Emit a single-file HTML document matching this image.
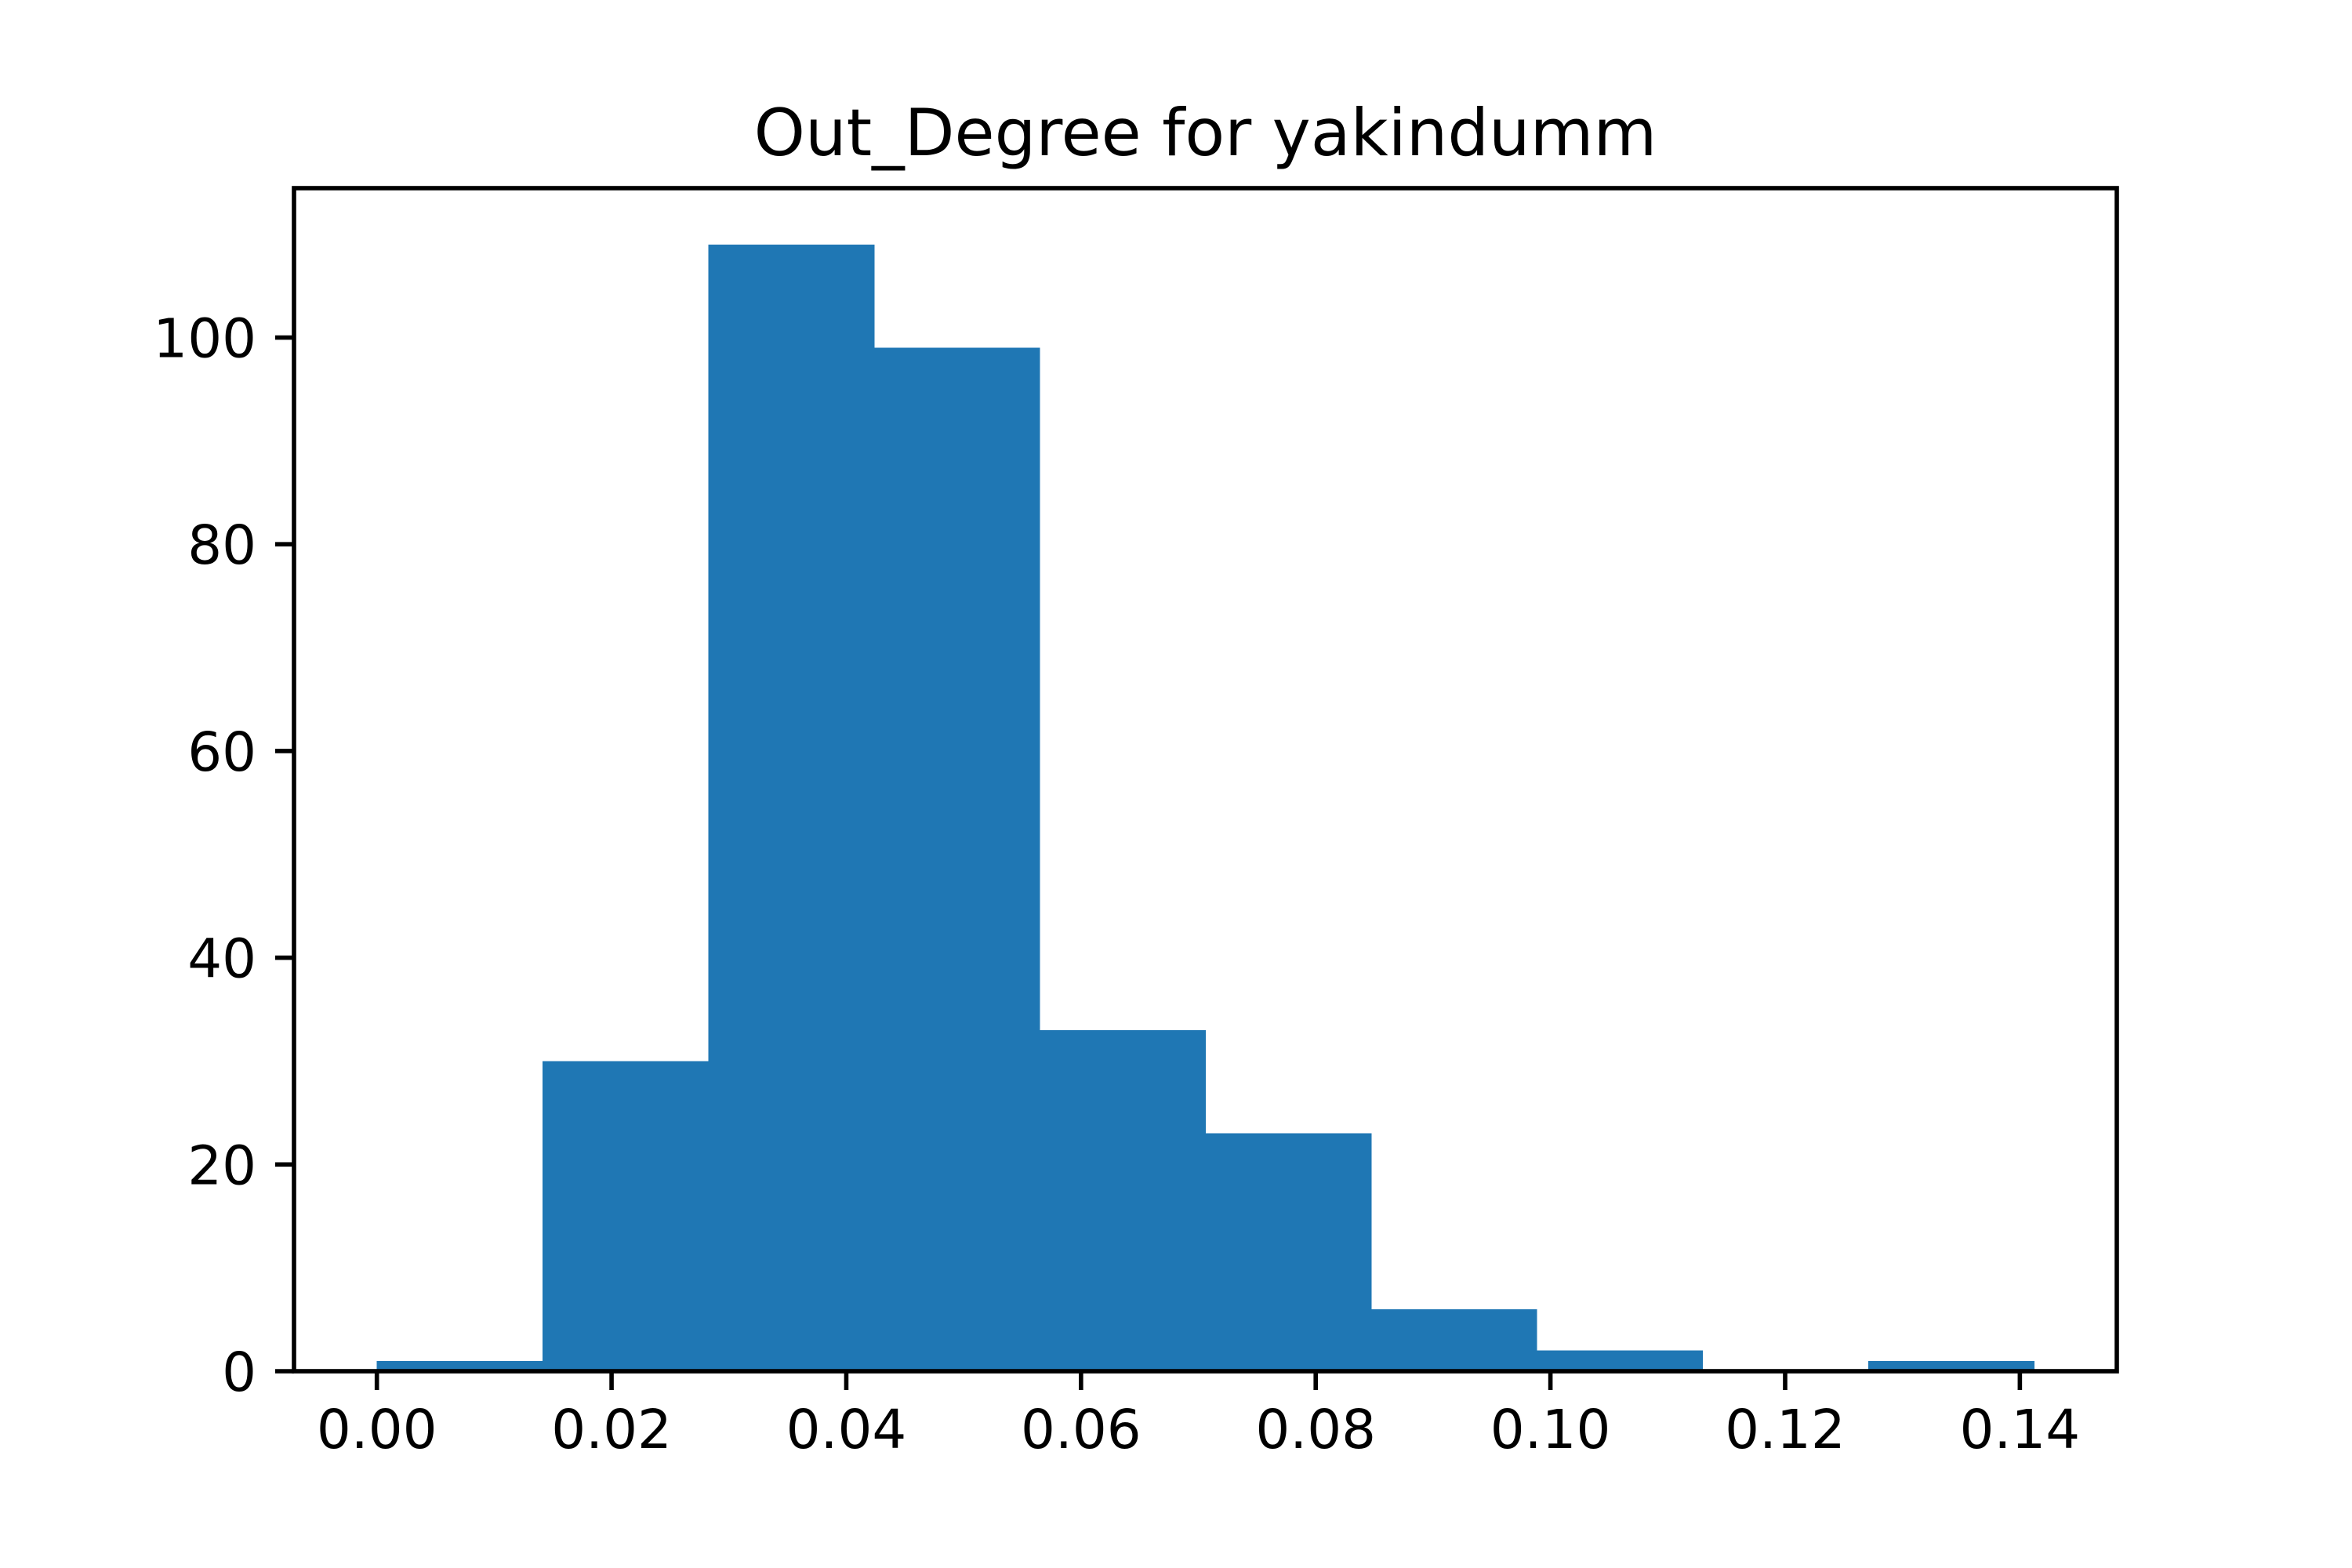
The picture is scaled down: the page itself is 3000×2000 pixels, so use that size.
<!DOCTYPE html>
<html>
<head>
<meta charset="utf-8">
<style>
html,body{margin:0;padding:0;background:#fff;}
svg{display:block;}
text{font-family:"DejaVu Sans","Liberation Sans",sans-serif;fill:#000;}
</style>
</head>
<body>
<svg id="chart" width="3000" height="2000" viewBox="0 0 3000 2000" xmlns="http://www.w3.org/2000/svg">
<rect x="0" y="0" width="3000" height="2000" fill="#fff"/>
<text x="1537.5" y="198" font-size="83" text-anchor="middle">Out_Degree for yakindumm</text>
<g id="bars" shape-rendering="crispEdges"></g>
<g id="xticks"></g>
<g id="yticks"></g>
<rect x="375" y="240" width="2325" height="1509" fill="none" stroke="#000" stroke-width="5.6"/>
</svg>
<script>
const binStart = 0.0;
const binEnd = 0.1412;
const counts = [1, 30, 109, 99, 33, 23, 6, 2, 0, 1];
const xTickValues = [0.00, 0.02, 0.04, 0.06, 0.08, 0.10, 0.12, 0.14];
const xTickLabels = ["0.00", "0.02", "0.04", "0.06", "0.08", "0.10", "0.12", "0.14"];
const yTickValues = [0, 20, 40, 60, 80, 100];
const yTickLabels = ["0", "20", "40", "60", "80", "100"];

const L = 375, R = 2700, T = 240, B = 1749;
const span = binEnd - binStart;
const xMin = binStart - 0.05 * span, xMax = binEnd + 0.05 * span;
const yMax = Math.max(...counts) * 1.05;
const xs = v => L + (v - xMin) / (xMax - xMin) * (R - L);
const ys = v => B - v / yMax * (B - T);
const NS = "http://www.w3.org/2000/svg";
const mk = (tag, attrs) => { const e = document.createElementNS(NS, tag); for (const k in attrs) e.setAttribute(k, attrs[k]); return e; };

const bars = document.getElementById('bars');
const w = span / counts.length;
counts.forEach((c, i) => {
  if (c <= 0) return;
  const x0 = xs(binStart + i * w), x1 = xs(binStart + (i + 1) * w);
  const r = mk('rect', {x: x0, y: ys(c), width: x1 - x0 + 0.5, height: B - ys(c), fill: '#1f77b4'});
  
  
  bars.appendChild(r);
});

const xg = document.getElementById('xticks');
xTickValues.forEach((v, i) => {
  const x = xs(v);
  const l = mk('line', {x1: x, x2: x, y1: B, y2: B + 24, stroke: '#000', 'stroke-width': 5.6});
  
  
  xg.appendChild(l);
  const t = mk('text', {x: x, y: B + 98, 'font-size': 69, 'text-anchor': 'middle'});
  t.textContent = xTickLabels[i];
  
  
  xg.appendChild(t);
});

const yg = document.getElementById('yticks');
yTickValues.forEach((v, i) => {
  const y = ys(v);
  const l = mk('line', {x1: L - 24, x2: L, y1: y, y2: y, stroke: '#000', 'stroke-width': 5.6});
  
  
  yg.appendChild(l);
  const t = mk('text', {x: L - 48, y: y + 25, 'font-size': 69, 'text-anchor': 'end'});
  t.textContent = yTickLabels[i];
  
  
  yg.appendChild(t);
});
</script>
</body>
</html>
